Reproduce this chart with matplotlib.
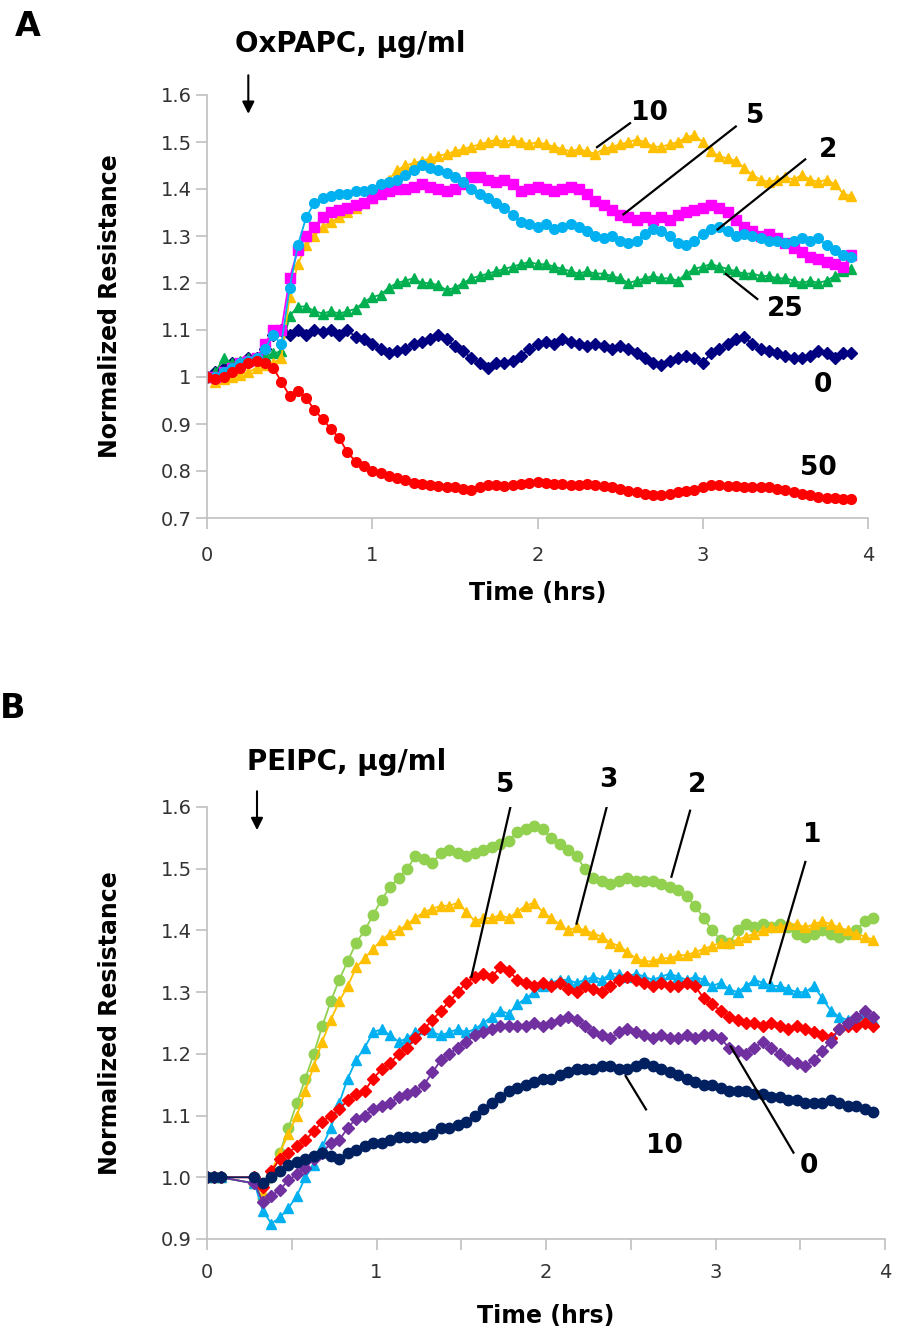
import matplotlib.pyplot as plt
import numpy as np

plt.rcParams['font.family'] = 'DejaVu Sans'

# ---- panel A: OxPAPC, one reading every 0.05 h ----
time_a = np.round(np.arange(79) * 0.05, 2)

oxpapc_0 = [1.00, 1.01, 1.02, 1.03, 1.03, 1.04, 1.04, 1.06, 1.09, 1.10,
            1.09, 1.10, 1.09, 1.10, 1.095, 1.10, 1.09, 1.10, 1.085, 1.08,
            1.07, 1.06, 1.05, 1.055, 1.06, 1.07, 1.075, 1.08, 1.09, 1.08,
            1.065, 1.055, 1.04, 1.03, 1.02, 1.03, 1.03, 1.035, 1.045, 1.06,
            1.07, 1.075, 1.07, 1.08, 1.075, 1.07, 1.065, 1.07, 1.065, 1.06,
            1.065, 1.06, 1.05, 1.04, 1.03, 1.025, 1.035, 1.04, 1.045, 1.04,
            1.03, 1.05, 1.06, 1.07, 1.08, 1.085, 1.07, 1.06, 1.055, 1.05,
            1.045, 1.04, 1.04, 1.045, 1.055, 1.05, 1.04, 1.05, 1.05]
oxpapc_2 = [1.00, 1.00, 1.01, 1.02, 1.03, 1.035, 1.04, 1.06, 1.09, 1.07,
            1.19, 1.28, 1.34, 1.37, 1.38, 1.385, 1.39, 1.39, 1.395, 1.395,
            1.40, 1.41, 1.415, 1.42, 1.43, 1.44, 1.45, 1.445, 1.44, 1.435,
            1.425, 1.415, 1.40, 1.39, 1.38, 1.37, 1.36, 1.345, 1.33, 1.325,
            1.32, 1.325, 1.315, 1.32, 1.325, 1.32, 1.31, 1.30, 1.295, 1.30,
            1.29, 1.285, 1.29, 1.305, 1.315, 1.31, 1.30, 1.285, 1.28, 1.29,
            1.305, 1.315, 1.32, 1.31, 1.30, 1.305, 1.30, 1.295, 1.29, 1.29,
            1.285, 1.29, 1.295, 1.29, 1.295, 1.28, 1.27, 1.26, 1.255]
oxpapc_5 = [1.00, 1.00, 1.01, 1.02, 1.03, 1.035, 1.04, 1.07, 1.10, 1.10,
            1.21, 1.27, 1.30, 1.32, 1.34, 1.35, 1.355, 1.36, 1.365, 1.37,
            1.38, 1.39, 1.395, 1.40, 1.40, 1.405, 1.41, 1.405, 1.40, 1.395,
            1.40, 1.41, 1.425, 1.425, 1.42, 1.415, 1.42, 1.41, 1.395, 1.40,
            1.405, 1.40, 1.395, 1.40, 1.405, 1.40, 1.39, 1.375, 1.365, 1.355,
            1.345, 1.34, 1.335, 1.34, 1.335, 1.34, 1.335, 1.345, 1.35, 1.355,
            1.36, 1.365, 1.36, 1.35, 1.335, 1.32, 1.31, 1.30, 1.305, 1.295,
            1.285, 1.275, 1.265, 1.255, 1.25, 1.245, 1.24, 1.235, 1.26]
oxpapc_10 = [1.00, 0.99, 0.995, 1.00, 1.005, 1.01, 1.02, 1.025, 1.03, 1.04,
             1.17, 1.24, 1.28, 1.30, 1.32, 1.33, 1.34, 1.35, 1.36, 1.37,
             1.38, 1.40, 1.42, 1.44, 1.45, 1.455, 1.46, 1.465, 1.47, 1.475,
             1.48, 1.485, 1.49, 1.495, 1.50, 1.505, 1.50, 1.505, 1.50, 1.495,
             1.50, 1.495, 1.49, 1.485, 1.48, 1.485, 1.48, 1.475, 1.485, 1.49,
             1.495, 1.50, 1.505, 1.50, 1.49, 1.49, 1.495, 1.50, 1.51, 1.515,
             1.50, 1.48, 1.47, 1.465, 1.46, 1.445, 1.43, 1.42, 1.415, 1.42,
             1.425, 1.42, 1.43, 1.42, 1.415, 1.42, 1.41, 1.39, 1.385]
oxpapc_25 = [1.00, 1.01, 1.04, 1.03, 1.035, 1.04, 1.04, 1.045, 1.05, 1.055,
             1.13, 1.15, 1.15, 1.14, 1.135, 1.14, 1.135, 1.14, 1.145, 1.16,
             1.17, 1.175, 1.19, 1.20, 1.205, 1.21, 1.20, 1.20, 1.195, 1.185,
             1.19, 1.20, 1.21, 1.215, 1.22, 1.225, 1.23, 1.235, 1.24, 1.245,
             1.24, 1.24, 1.235, 1.23, 1.225, 1.22, 1.225, 1.22, 1.22, 1.215,
             1.21, 1.20, 1.205, 1.21, 1.215, 1.21, 1.21, 1.205, 1.22, 1.23,
             1.235, 1.24, 1.235, 1.23, 1.225, 1.22, 1.22, 1.215, 1.215, 1.21,
             1.21, 1.205, 1.20, 1.205, 1.20, 1.205, 1.215, 1.225, 1.23]
oxpapc_50 = [1.00, 0.995, 1.00, 1.01, 1.02, 1.03, 1.035, 1.03, 1.02, 0.99,
             0.96, 0.97, 0.955, 0.93, 0.91, 0.89, 0.87, 0.84, 0.82, 0.81,
             0.80, 0.795, 0.79, 0.785, 0.78, 0.775, 0.772, 0.77, 0.768, 0.765,
             0.765, 0.762, 0.76, 0.765, 0.77, 0.77, 0.768, 0.77, 0.772, 0.775,
             0.776, 0.774, 0.772, 0.772, 0.77, 0.77, 0.772, 0.77, 0.768, 0.765,
             0.762, 0.758, 0.755, 0.752, 0.75, 0.75, 0.752, 0.755, 0.758, 0.76,
             0.765, 0.77, 0.77, 0.768, 0.768, 0.767, 0.767, 0.765, 0.765, 0.762,
             0.76, 0.755, 0.752, 0.748, 0.745, 0.743, 0.742, 0.74, 0.74]

# ---- panel B: PEIPC, three baseline readings then one every 0.05 h ----
time_b = np.concatenate([[0, 0.04, 0.08], np.round(0.28 + np.arange(74) * 0.05, 2)])

peipc_0 = [1.00, 1.00, 1.00,
           0.99, 0.96, 0.97, 0.98, 0.995, 1.005, 1.015, 1.03, 1.04, 1.055,
           1.06, 1.08, 1.095, 1.10, 1.11, 1.115, 1.12, 1.13, 1.135, 1.14,
           1.15, 1.17, 1.19, 1.20, 1.21, 1.22, 1.23, 1.235, 1.24, 1.245,
           1.245, 1.245, 1.245, 1.25, 1.245, 1.25, 1.255, 1.26, 1.255, 1.245,
           1.235, 1.23, 1.225, 1.235, 1.24, 1.235, 1.23, 1.225, 1.23, 1.225,
           1.225, 1.23, 1.225, 1.23, 1.23, 1.225, 1.21, 1.205, 1.20, 1.21,
           1.22, 1.21, 1.20, 1.19, 1.185, 1.18, 1.19, 1.205, 1.22, 1.24,
           1.25, 1.26, 1.27, 1.26]
peipc_1 = [1.00, 1.00, 1.00,
           0.99, 0.945, 0.925, 0.935, 0.95, 0.97, 1.00, 1.02, 1.05, 1.08,
           1.12, 1.16, 1.19, 1.21, 1.235, 1.24, 1.23, 1.22, 1.225, 1.235,
           1.24, 1.235, 1.23, 1.235, 1.24, 1.235, 1.24, 1.25, 1.26, 1.27,
           1.265, 1.28, 1.29, 1.30, 1.31, 1.315, 1.32, 1.32, 1.315, 1.32,
           1.325, 1.32, 1.33, 1.33, 1.325, 1.33, 1.325, 1.32, 1.325, 1.33,
           1.325, 1.32, 1.325, 1.32, 1.31, 1.315, 1.305, 1.30, 1.31, 1.32,
           1.315, 1.31, 1.31, 1.305, 1.30, 1.30, 1.31, 1.29, 1.27, 1.26,
           1.255, 1.26, 1.265, 1.255]
peipc_2 = [1.00, 1.00, 1.00,
           0.99, 0.965, 1.00, 1.04, 1.08, 1.12, 1.16, 1.20, 1.245, 1.285,
           1.32, 1.35, 1.38, 1.40, 1.425, 1.45, 1.47, 1.485, 1.50, 1.52,
           1.515, 1.51, 1.525, 1.53, 1.525, 1.52, 1.525, 1.53, 1.535, 1.54,
           1.545, 1.56, 1.565, 1.57, 1.565, 1.55, 1.54, 1.53, 1.52, 1.50,
           1.485, 1.48, 1.475, 1.48, 1.485, 1.48, 1.48, 1.48, 1.475, 1.47,
           1.465, 1.455, 1.44, 1.42, 1.40, 1.385, 1.38, 1.40, 1.41, 1.405,
           1.41, 1.405, 1.41, 1.405, 1.395, 1.39, 1.395, 1.40, 1.395, 1.39,
           1.395, 1.40, 1.415, 1.42]
peipc_3 = [1.00, 1.00, 1.00,
           0.99, 0.975, 1.01, 1.04, 1.07, 1.10, 1.14, 1.18, 1.22, 1.255,
           1.285, 1.31, 1.34, 1.355, 1.37, 1.385, 1.395, 1.40, 1.41, 1.42,
           1.43, 1.435, 1.44, 1.44, 1.445, 1.43, 1.415, 1.42, 1.42, 1.425,
           1.42, 1.43, 1.44, 1.445, 1.43, 1.42, 1.41, 1.40, 1.405, 1.40,
           1.395, 1.39, 1.38, 1.375, 1.365, 1.355, 1.35, 1.35, 1.355, 1.355,
           1.36, 1.36, 1.365, 1.37, 1.375, 1.38, 1.38, 1.385, 1.39, 1.395,
           1.40, 1.405, 1.405, 1.41, 1.41, 1.405, 1.41, 1.415, 1.41, 1.405,
           1.40, 1.395, 1.39, 1.385]
peipc_5 = [1.00, 1.00, 1.00,
           1.00, 0.985, 1.01, 1.03, 1.04, 1.05, 1.06, 1.075, 1.09, 1.10,
           1.11, 1.125, 1.135, 1.14, 1.16, 1.175, 1.185, 1.20, 1.21, 1.225,
           1.24, 1.255, 1.27, 1.285, 1.30, 1.315, 1.325, 1.33, 1.325, 1.34,
           1.335, 1.32, 1.315, 1.31, 1.315, 1.31, 1.315, 1.305, 1.30, 1.31,
           1.305, 1.30, 1.31, 1.32, 1.325, 1.32, 1.315, 1.31, 1.315, 1.31,
           1.31, 1.315, 1.31, 1.29, 1.28, 1.27, 1.26, 1.255, 1.25, 1.25,
           1.245, 1.25, 1.245, 1.24, 1.245, 1.24, 1.235, 1.23, 1.225, 1.24,
           1.245, 1.245, 1.25, 1.245]
peipc_10 = [1.00, 1.00, 1.00,
            1.00, 0.99, 1.00, 1.01, 1.02, 1.025, 1.03, 1.035, 1.04, 1.035,
            1.03, 1.04, 1.045, 1.05, 1.055, 1.055, 1.06, 1.065, 1.065, 1.065,
            1.065, 1.07, 1.08, 1.08, 1.085, 1.09, 1.10, 1.11, 1.12, 1.13,
            1.14, 1.145, 1.15, 1.155, 1.16, 1.16, 1.165, 1.17, 1.175, 1.175,
            1.175, 1.18, 1.18, 1.175, 1.175, 1.18, 1.185, 1.18, 1.175, 1.17,
            1.165, 1.16, 1.155, 1.15, 1.15, 1.145, 1.14, 1.14, 1.14, 1.135,
            1.135, 1.13, 1.13, 1.125, 1.125, 1.12, 1.12, 1.12, 1.125, 1.12,
            1.115, 1.115, 1.11, 1.105]

# label text, label position, leader line start, leader line end
labels_a = [('10', (2.68, 1.562), (2.56, 1.54), (2.36, 1.489)),
            ('5', (3.32, 1.555), (3.20, 1.533), (2.52, 1.346)),
            ('2', (3.76, 1.482), (3.62, 1.463), (3.09, 1.314)),
            ('25', (3.50, 1.145), (3.33, 1.166), (3.14, 1.219)),
            ('0', (3.73, 0.982), None, None),
            ('50', (3.70, 0.806), None, None)]
labels_b = [('5', (1.76, 1.635), (1.79, 1.60), (1.56, 1.325)),
            ('3', (2.37, 1.643), (2.36, 1.602), (2.18, 1.411)),
            ('2', (2.89, 1.635), (2.85, 1.594), (2.74, 1.487)),
            ('1', (3.57, 1.554), (3.53, 1.511), (3.32, 1.315)),
            ('10', (2.70, 1.05), (2.59, 1.11), (2.47, 1.164)),
            ('0', (3.55, 1.019), (3.46, 1.04), (3.09, 1.212))]

fig = plt.figure(figsize=(8.98, 13.36), dpi=100)
ax_a = fig.add_axes([207 / 898, 1 - 518 / 1336, 661 / 898, 423 / 1336])
ax_b = fig.add_axes([207 / 898, 1 - 1239 / 1336, 678 / 898, 432 / 1336])


def style(ax, pad_x, xlabel_pad):
	for side in ['top', 'right']:
		ax.spines[side].set_visible(False)
	for side in ['left', 'bottom']:
		ax.spines[side].set_color('#c0c0c0')
		ax.spines[side].set_linewidth(1.2)
	ax.tick_params(axis='both', color='#c0c0c0', length=8, width=1.2, labelsize=14,
	               labelcolor='#333333')
	ax.tick_params(axis='y', pad=3)
	ax.tick_params(axis='x', pad=pad_x)
	ax.set_xlim(0, 4)
	ax.set_xlabel('Time (hrs)', fontsize=17, fontweight='bold', labelpad=xlabel_pad)
	ax.set_ylabel('Normalized Resistance', fontsize=17, fontweight='bold', labelpad=28)


def draw_labels(ax, labels):
	for text, pos, start, end in labels:
		ax.text(pos[0], pos[1], text, fontsize=19, fontweight='bold', ha='center', va='center')
		if start is not None:
			ax.plot([start[0], end[0]], [start[1], end[1]], color='black', lw=1.6, zorder=10)


# panel A
series_a = [(oxpapc_0, '#000080', 'D', 6),
            (oxpapc_25, '#00b050', '^', 7),
            (oxpapc_10, '#ffc000', '^', 7),
            (oxpapc_5, '#ff00ff', 's', 6.5),
            (oxpapc_2, '#00b0f0', 'o', 7),
            (oxpapc_50, '#ff0000', 'o', 7)]
for values, color, marker, size in series_a:
	ax_a.plot(time_a, values, color=color, marker=marker, markersize=size, lw=1.3,
	          markeredgecolor=color)
style(ax_a, 12, 12)
ax_a.set_ylim(0.7, 1.6)
ax_a.set_yticks([0.7, 0.8, 0.9, 1.0, 1.1, 1.2, 1.3, 1.4, 1.5, 1.6])
ax_a.set_yticklabels(['0.7', '0.8', '0.9', '1', '1.1', '1.2', '1.3', '1.4', '1.5', '1.6'])
ax_a.set_xticks([0, 1, 2, 3, 4])
ax_a.set_xticklabels(['0', '1', '2', '3', '4'])
draw_labels(ax_a, labels_a)
ax_a.annotate('', xy=(0.25, 1.554), xytext=(0.25, 1.648), annotation_clip=False,
              arrowprops=dict(arrowstyle='-|>', color='black', lw=1.5, mutation_scale=18))

# panel B
series_b = [(peipc_2, '#92d050', 'o', 7.5),
            (peipc_3, '#ffc000', '^', 7),
            (peipc_1, '#00b0f0', '^', 7),
            (peipc_5, '#ff0000', 'D', 6),
            (peipc_0, '#7030a0', 'D', 6),
            (peipc_10, '#002060', 'o', 7.5)]
for values, color, marker, size in series_b:
	ax_b.plot(time_b, values, color=color, marker=marker, markersize=size, lw=1.3,
	          markeredgecolor=color)
style(ax_b, 9, 16)
ax_b.set_ylim(0.9, 1.6)
ax_b.set_yticks([0.9, 1.0, 1.1, 1.2, 1.3, 1.4, 1.5, 1.6])
ax_b.set_yticklabels(['0.9', '1.0', '1.1', '1.2', '1.3', '1.4', '1.5', '1.6'])
ax_b.set_xticks([0, 0.5, 1, 1.5, 2, 2.5, 3, 3.5, 4])
ax_b.set_xticklabels(['0', '', '1', '', '2', '', '3', '', '4'])
draw_labels(ax_b, labels_b)
ax_b.annotate('', xy=(0.295, 1.558), xytext=(0.295, 1.63), annotation_clip=False,
              arrowprops=dict(arrowstyle='-|>', color='black', lw=1.5, mutation_scale=18))

fig.text(15 / 898, 1 - 27 / 1336, 'A', fontsize=24, fontweight='bold', ha='left', va='center')
fig.text(0, 1 - 709 / 1336, 'B', fontsize=24, fontweight='bold', ha='left', va='center')
fig.text(235 / 898, 1 - 44 / 1336, 'OxPAPC, \u03bcg/ml', fontsize=20, fontweight='bold',
         ha='left', va='center')
fig.text(247 / 898, 1 - 762 / 1336, 'PEIPC, \u03bcg/ml', fontsize=20, fontweight='bold',
         ha='left', va='center')

fig.savefig('out.png', dpi=100)
